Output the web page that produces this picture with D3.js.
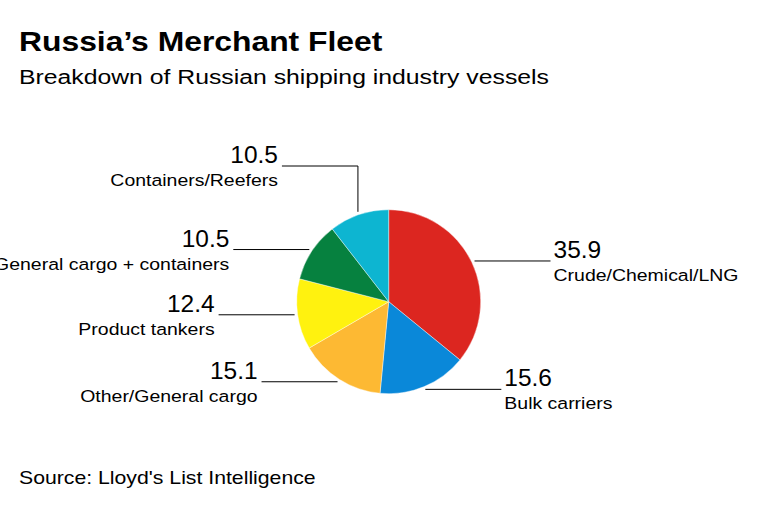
<!DOCTYPE html>
<html>
<head>
<meta charset="utf-8">
<script src="https://cdn.jsdelivr.net/npm/d3@7"></script>
<style>
  html, body { margin: 0; padding: 0; background: #fff; }
  svg { display: block; font-family: "Liberation Sans", Arial, Helvetica, sans-serif; }
</style>
</head>
<body>
<svg id="chart" width="768" height="513"></svg>
<script>
const categories = ["Crude/Chemical/LNG", "Bulk carriers", "Other/General cargo", "Product tankers", "General cargo + containers", "Containers/Reefers"];
const values = [35.9, 15.6, 15.1, 12.4, 10.5, 10.5];
const valueLabels = ["35.9", "15.6", "15.1", "12.4", "10.5", "10.5"];
const colors = ["#dc2620", "#0a88d9", "#fdb933", "#fff20f", "#06813f", "#0db5d1"];

const svg = d3.select("#chart");
const SX = 1.18; // horizontal stretch to match the wide grotesque face of the original

function addText(parent, x, y, str, size, opts = {}) {
  return parent.append("text")
    .attr("transform", `translate(${x},${y}) scale(${opts.sx ?? SX},1)`)
    .attr("font-size", size)
    .attr("font-weight", opts.weight || "normal")
    .attr("text-anchor", opts.anchor || "start")
    .attr("fill", "#000")
    .text(str);
}

addText(svg, 19, 51, "Russia\u2019s Merchant Fleet", 27, { weight: "bold" });
addText(svg, 19, 84, "Breakdown of Russian shipping industry vessels", 21);
addText(svg, 19, 484, "Source: Lloyd's List Intelligence", 18);

const cx = 388.7, cy = 301.7, R = 92;
const data = categories.map((c, i) => ({ cat: c, value: values[i], label: valueLabels[i], color: colors[i] }));
const pie = d3.pie().value(d => d.value).sort(null);
const arcs = pie(data);
const arc = d3.arc().innerRadius(0).outerRadius(R);

const g = svg.append("g").attr("transform", `translate(${cx},${cy})`);
g.selectAll("path").data(arcs).join("path")
  .attr("d", arc)
  .attr("fill", d => d.data.color)
  .attr("stroke", "#fff").attr("stroke-width", 0.4);

const lineLen = 76;
const startR = R + 3;
const lab = svg.append("g");
arcs.forEach((a, i) => {
  const mid = (a.startAngle + a.endAngle) / 2;
  const sx = cx + startR * Math.sin(mid);
  const sy = cy - startR * Math.cos(mid);
  const elbow = i === arcs.length - 1;
  const right = Math.sin(mid) > 0 && !elbow;
  let pts, ly;
  if (elbow) {
    ly = 166;
    pts = [[sx, sy], [sx, ly], [sx - lineLen, ly]];
  } else {
    ly = sy;
    pts = [[sx, sy], [sx + (right ? lineLen : -lineLen), sy]];
  }
  lab.append("path")
    .attr("d", d3.line()(pts))
    .attr("fill", "none").attr("stroke", "#000").attr("stroke-width", 1);
  const end = pts[pts.length - 1];
  const tx = right ? end[0] + 3 : end[0] - 4;
  const anchor = right ? "start" : "end";
  addText(lab, tx, ly - 3, a.data.label, 24, { anchor, sx: 1.02 });
  addText(lab, tx, ly + 20, a.data.cat, 16.5, { anchor });
});
</script>
</body>
</html>
